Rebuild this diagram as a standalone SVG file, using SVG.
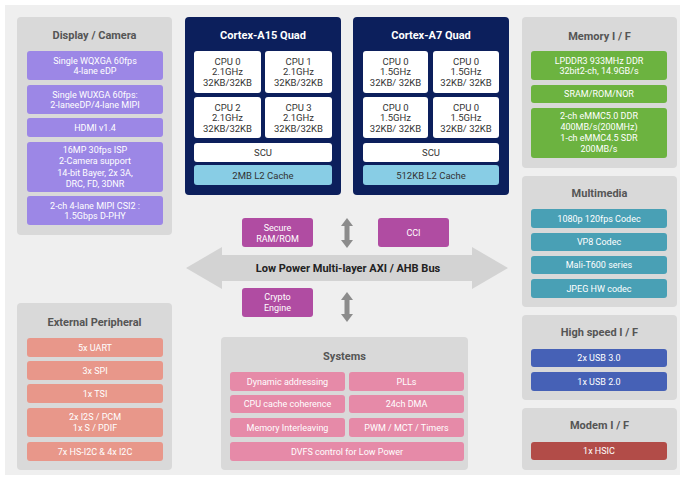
<svg xmlns="http://www.w3.org/2000/svg" width="680" height="479" viewBox="0 0 680 479">
<style>
text{font-family:Roboto,"Noto Sans","Liberation Sans",sans-serif;text-anchor:middle;dominant-baseline:central}
.panel{fill:#d9d9d9}
.title{font-size:11px;font-weight:bold;fill:#555}
.core{fill:#0c1f5c}
.ctitle{font-size:11px;font-weight:bold;fill:#fff}
.cpu{fill:#fff}
.ct{font-size:9.5px;fill:#333}
.l2{fill:#88cde5}
.bt{font-size:9px;fill:#fff}
.pur{fill:#9c87e6}
.grn{fill:#6cb340}
.teal{fill:#49a0b5}
.blu{fill:#4661b6}
.red{fill:#b24c48}
.sal{fill:#e8978a}
.pink{fill:#e68aa8}
.mag{fill:#b04ca2}
.arr{fill:#8c8c8c}
</style>
<rect x="0" y="0" width="680" height="479" fill="#fff"/>
<rect x="5" y="5" width="675" height="470" fill="#efefef"/>

<g id="connectors">
<polygon points="186,268 222,247 222,255 472,255 472,247 508,268 472,289 472,281 222,281 222,289" fill="#d3d3d3"/>
<text x="348" y="268" style="font-size:11px;font-weight:bold;fill:#222">Low Power Multi-layer AXI / AHB Bus</text>
<polygon class="arr" points="347,218 353,226 349.5,226 349.5,240 353,240 347,248 341,240 344.5,240 344.5,226 341,226"/>
<polygon class="arr" points="347,292 353,300 349.5,300 349.5,314 353,314 347,322 341,314 344.5,314 344.5,300 341,300"/>
</g>

<g id="display-camera">
<rect class="panel" x="17" y="17" width="155" height="218" rx="4"/>
<text class="title" x="94.5" y="35">Display / Camera</text>
<rect class="pur" x="27" y="51" width="136" height="29" rx="3"/>
<text class="bt" x="95" y="60.5">Single WQXGA 60fps</text>
<text class="bt" x="95" y="71">4-lane eDP</text>
<rect class="pur" x="27" y="85" width="136" height="29" rx="3"/>
<text class="bt" x="95" y="94.5">Single WUXGA 60fps:</text>
<text class="bt" x="95" y="105">2-laneeDP/4-lane MIPI</text>
<rect class="pur" x="27" y="118" width="136" height="19" rx="3"/>
<text class="bt" x="95" y="127.5">HDMI v1.4</text>
<rect class="pur" x="27" y="142" width="136" height="50" rx="3"/>
<text class="bt" x="95" y="149.5">16MP 30fps ISP</text>
<text class="bt" x="95" y="161">2-Camera support</text>
<text class="bt" x="95" y="172.5">14-bit Bayer, 2x 3A,</text>
<text class="bt" x="95" y="184">DRC, FD, 3DNR</text>
<rect class="pur" x="27" y="196" width="136" height="29" rx="3"/>
<text class="bt" x="95" y="205.5">2-ch 4-lane MIPI CSI2 :</text>
<text class="bt" x="95" y="216">1.5Gbps D-PHY</text>
</g>

<g id="cortex-a15">
<rect class="core" x="185" y="17" width="156" height="178" rx="4"/>
<text class="ctitle" x="263" y="35">Cortex-A15 Quad</text>
<rect class="cpu" x="194" y="51" width="67" height="42" rx="3"/>
<text class="ct" x="227.5" y="61">CPU 0</text><text class="ct" x="227.5" y="71.5">2.1GHz</text><text class="ct" x="227.5" y="82">32KB/32KB</text>
<rect class="cpu" x="265" y="51" width="67" height="42" rx="3"/>
<text class="ct" x="298.5" y="61">CPU 1</text><text class="ct" x="298.5" y="71.5">2.1GHz</text><text class="ct" x="298.5" y="82">32KB/32KB</text>
<rect class="cpu" x="194" y="97" width="67" height="41" rx="3"/>
<text class="ct" x="227.5" y="107">CPU 2</text><text class="ct" x="227.5" y="117.5">2.1GHz</text><text class="ct" x="227.5" y="128">32KB/32KB</text>
<rect class="cpu" x="265" y="97" width="67" height="41" rx="3"/>
<text class="ct" x="298.5" y="107">CPU 3</text><text class="ct" x="298.5" y="117.5">2.1GHz</text><text class="ct" x="298.5" y="128">32KB/32KB</text>
<rect class="cpu" x="194" y="143" width="138" height="19" rx="3"/>
<text class="ct" x="263" y="152.5">SCU</text>
<rect class="l2" x="194" y="165" width="138" height="20" rx="3"/>
<text class="ct" x="263" y="175">2MB L2 Cache</text>
</g>

<g id="cortex-a7">
<rect class="core" x="353" y="17" width="156" height="178" rx="4"/>
<text class="ctitle" x="431" y="35">Cortex-A7 Quad</text>
<rect class="cpu" x="363" y="51" width="65" height="42" rx="3"/>
<text class="ct" x="395.5" y="61">CPU 0</text><text class="ct" x="395.5" y="71.5">1.5GHz</text><text class="ct" x="395.5" y="82">32KB/ 32KB</text>
<rect class="cpu" x="433" y="51" width="66" height="42" rx="3"/>
<text class="ct" x="466" y="61">CPU 0</text><text class="ct" x="466" y="71.5">1.5GHz</text><text class="ct" x="466" y="82">32KB/ 32KB</text>
<rect class="cpu" x="363" y="97" width="65" height="41" rx="3"/>
<text class="ct" x="395.5" y="107">CPU 0</text><text class="ct" x="395.5" y="117.5">1.5GHz</text><text class="ct" x="395.5" y="128">32KB/ 32KB</text>
<rect class="cpu" x="433" y="97" width="66" height="41" rx="3"/>
<text class="ct" x="466" y="107">CPU 0</text><text class="ct" x="466" y="117.5">1.5GHz</text><text class="ct" x="466" y="128">32KB/ 32KB</text>
<rect class="cpu" x="363" y="143" width="136" height="19" rx="3"/>
<text class="ct" x="431" y="152.5">SCU</text>
<rect class="l2" x="363" y="165" width="136" height="20" rx="3"/>
<text class="ct" x="431" y="175">512KB L2 Cache</text>
</g>

<g id="secure-ram">
<rect class="mag" x="242" y="218" width="71" height="29" rx="3"/>
<text class="bt" x="277.5" y="227.5">Secure</text>
<text class="bt" x="277.5" y="238.5">RAM/ROM</text>
</g>
<g id="cci">
<rect class="mag" x="378" y="218" width="71" height="29" rx="3"/>
<text class="bt" x="413.5" y="233">CCI</text>
</g>
<g id="crypto">
<rect class="mag" x="242" y="288" width="71" height="29" rx="3"/>
<text class="bt" x="277.5" y="297">Crypto</text>
<text class="bt" x="277.5" y="308">Engine</text>
</g>

<g id="memory-if">
<rect class="panel" x="522" y="17" width="155" height="151" rx="4"/>
<text class="title" x="599.5" y="36">Memory I / F</text>
<rect class="grn" x="531" y="51" width="136" height="29" rx="3"/>
<text class="bt" x="599" y="60.5">LPDDR3 933MHz DDR</text>
<text class="bt" x="599" y="71">32bit2-ch, 14.9GB/s</text>
<rect class="grn" x="531" y="85" width="136" height="18" rx="3"/>
<text class="bt" x="599" y="94">SRAM/ROM/NOR</text>
<rect class="grn" x="531" y="108" width="136" height="50" rx="3"/>
<text class="bt" x="599" y="116">2-ch eMMC5.0 DDR</text>
<text class="bt" x="599" y="127">400MB/s(200MHz)</text>
<text class="bt" x="599" y="138">1-ch eMMC4.5 SDR</text>
<text class="bt" x="599" y="149">200MB/s</text>
</g>

<g id="multimedia">
<rect class="panel" x="522" y="176" width="155" height="131" rx="4"/>
<text class="title" x="599.5" y="193">Multimedia</text>
<rect class="teal" x="531" y="209" width="136" height="19" rx="3"/>
<text class="bt" x="599" y="218.5">1080p 120fps Codec</text>
<rect class="teal" x="531" y="233" width="136" height="18" rx="3"/>
<text class="bt" x="599" y="242">VP8 Codec</text>
<rect class="teal" x="531" y="256" width="136" height="18" rx="3"/>
<text class="bt" x="599" y="265">Mali-T600 series</text>
<rect class="teal" x="531" y="279" width="136" height="19" rx="3"/>
<text class="bt" x="599" y="288.5">JPEG HW codec</text>
</g>

<g id="high-speed-if">
<rect class="panel" x="522" y="315" width="155" height="85" rx="4"/>
<text class="title" x="599.5" y="332">High speed I / F</text>
<rect class="blu" x="531" y="349" width="136" height="18" rx="3"/>
<text class="bt" x="599" y="358">2x USB 3.0</text>
<rect class="blu" x="531" y="372" width="136" height="19" rx="3"/>
<text class="bt" x="599" y="381.5">1x USB 2.0</text>
</g>

<g id="modem-if">
<rect class="panel" x="522" y="408" width="155" height="62" rx="4"/>
<text class="title" x="599.5" y="425">Modem I / F</text>
<rect class="red" x="531" y="442" width="136" height="18" rx="3"/>
<text class="bt" x="599" y="451">1x HSIC</text>
</g>

<g id="external-peripheral">
<rect class="panel" x="17" y="303" width="155" height="167" rx="4"/>
<text class="title" x="94.5" y="322">External Peripheral</text>
<rect class="sal" x="27" y="338" width="136" height="19" rx="3"/>
<text class="bt" x="95" y="347.5">5x UART</text>
<rect class="sal" x="27" y="361" width="136" height="19" rx="3"/>
<text class="bt" x="95" y="370.5">3x SPI</text>
<rect class="sal" x="27" y="384" width="136" height="19" rx="3"/>
<text class="bt" x="95" y="393.5">1x TSI</text>
<rect class="sal" x="27" y="408" width="136" height="29" rx="3"/>
<text class="bt" x="95" y="417">2x I2S / PCM</text>
<text class="bt" x="95" y="428">1x S / PDIF</text>
<rect class="sal" x="27" y="442" width="136" height="19" rx="3"/>
<text class="bt" x="95" y="451.5">7x HS-I2C &amp; 4x I2C</text>
</g>

<g id="systems">
<rect class="panel" x="221" y="337" width="247" height="133" rx="4"/>
<text class="title" x="344.5" y="356">Systems</text>
<rect class="pink" x="230" y="372" width="115" height="19" rx="3"/>
<text class="bt" x="287.5" y="381.5">Dynamic addressing</text>
<rect class="pink" x="349" y="372" width="115" height="19" rx="3"/>
<text class="bt" x="406.5" y="381.5">PLLs</text>
<rect class="pink" x="230" y="395" width="115" height="18" rx="3"/>
<text class="bt" x="287.5" y="404">CPU cache coherence</text>
<rect class="pink" x="349" y="395" width="115" height="18" rx="3"/>
<text class="bt" x="406.5" y="404">24ch DMA</text>
<rect class="pink" x="230" y="418" width="115" height="19" rx="3"/>
<text class="bt" x="287.5" y="427.5">Memory Interleaving</text>
<rect class="pink" x="349" y="418" width="115" height="19" rx="3"/>
<text class="bt" x="406.5" y="427.5">PWM / MCT / Timers</text>
<rect class="pink" x="230" y="442" width="234" height="19" rx="3"/>
<text class="bt" x="347" y="451.5">DVFS control for Low Power</text>
</g>
</svg>
